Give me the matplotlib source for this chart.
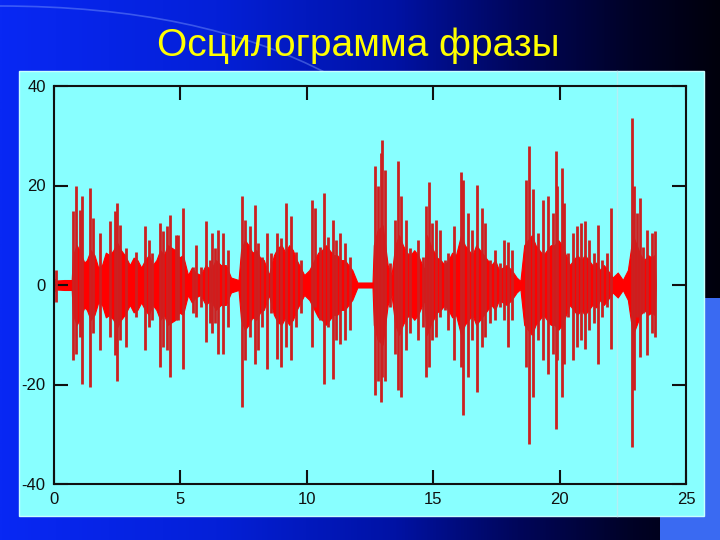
import numpy as np
import matplotlib
matplotlib.use("Agg")
import matplotlib.pyplot as plt
from matplotlib.patches import Rectangle, PathPatch
from matplotlib.path import Path
from matplotlib.colors import LinearSegmentedColormap

# ---------------- data ----------------
title = "Осцилограмма фразы"
x_ticks = [0, 5, 10, 15, 20, 25]
y_ticks = [40, 20, 0, -20, -40]

# dense "body" of the oscillogram (half-amplitude)
env_t = [0.0, 0.05, 0.1, 0.4, 0.7, 0.75, 0.9, 1.0, 1.2, 1.3, 1.45, 1.6, 1.75, 1.9, 2.05, 2.2,
         2.35, 2.5, 2.65, 2.8, 3.0, 3.15, 3.3, 3.45, 3.6, 3.75, 3.9, 4.05, 4.2, 4.35, 4.5,
         4.65, 4.8, 4.95, 5.1, 5.3, 5.45, 5.6, 5.8, 6.0, 6.2, 6.4, 6.6, 6.8, 7.0, 7.3, 7.4,
         7.55, 7.7, 7.85, 8.0, 8.15, 8.3, 8.5, 8.7, 8.85, 9.0, 9.15, 9.3, 9.45, 9.6, 9.9,
         10.1, 10.3, 10.45, 10.6, 10.75, 10.9, 11.05, 11.2, 11.35, 11.5, 11.65, 11.8, 12.0,
         12.6, 12.65, 12.8, 13.0, 13.2, 13.35, 13.5, 13.65, 13.8, 13.95, 14.1, 14.25, 14.4,
         14.65, 14.75, 14.9, 15.0, 15.15, 15.3, 15.45, 15.6, 15.75, 15.9, 16.1, 16.25, 16.4,
         16.55, 16.7, 16.85, 17.0, 17.15, 17.3, 17.45, 17.6, 17.75, 17.9, 18.1, 18.3, 18.45,
         18.6, 18.75, 18.9, 19.05, 19.2, 19.35, 19.5, 19.65, 19.8, 19.95, 20.1, 20.25, 20.4,
         20.55, 20.7, 20.85, 21.0, 21.15, 21.3, 21.45, 21.6, 21.75, 21.9, 22.1, 22.3, 22.5,
         22.7, 22.9, 23.05, 23.2, 23.35, 23.5, 23.65, 23.75, 23.8]
env_amp = [0.8, 1.2, 0.9, 1.0, 1.0, 6, 8, 7, 4.5, 5, 7, 6, 3.5, 4, 6.5, 6,
           7, 8.5, 7, 6, 4, 5.5, 5, 3.5, 5, 6, 4, 5, 7, 6, 8,
           7.5, 7, 5.5, 6, 2, 3.5, 2.5, 2, 4, 3, 5, 4, 4, 1.5, 1, 7,
           9, 8, 6.5, 7, 5.5, 5, 2, 6, 7.5, 8, 6.5, 8, 7, 5, 2,
           3, 5, 6.5, 7, 8, 7, 6, 6, 5, 5, 4, 3, 0.5,
           0.5, 8, 11, 12, 4, 2, 8, 10, 8, 6.5, 6, 7, 6,
           3, 10, 8, 7, 5.5, 5, 4, 5, 6.5, 6, 10, 8, 7,
           6, 8, 7, 6, 5, 4, 5, 3, 3.5, 4, 3, 1.5, 0.8,
           8, 9, 10, 8, 7, 6, 7, 8, 8, 9, 8, 6, 4,
           5, 6, 5, 6, 5, 4, 4.5, 3, 4, 3, 1.5, 2.5, 1,
           3, 10, 8, 6, 5, 6, 5.5, 6, 0.5]

# individual peaks: time, positive peak, negative peak
spike_t = [0.06, 0.77, 0.86, 1.01, 1.10, 1.41, 1.54, 1.83, 2.20, 2.40, 2.50, 2.63, 2.86, 3.23,
           3.61, 3.75, 3.89, 4.18, 4.31, 4.47, 4.60, 4.84,
           4.90, 5.10, 5.50, 5.60, 5.83, 6.02, 6.16, 6.26, 6.35, 6.49, 6.68, 6.88,
           7.45, 7.54, 7.74, 7.94, 8.07, 8.24, 8.44, 8.60, 8.82, 8.99, 9.19, 9.39, 9.59, 9.78,
           10.22, 10.31, 10.54, 10.67, 10.84, 11.04, 11.17, 11.33, 11.50, 11.70,
           12.69, 12.82, 12.93, 12.99, 13.11, 13.31, 13.48, 13.61, 13.74, 13.92, 14.07,
           14.40, 14.60, 14.73, 14.83, 14.96, 15.13, 15.26, 15.46, 15.59, 15.83, 16.09,
           16.18, 16.38, 16.54, 16.75, 16.94, 17.04, 17.24, 17.44, 17.64, 17.81, 17.97,
           18.12, 18.69, 18.78, 18.96, 19.15, 19.35, 19.55, 19.75,
           19.85, 19.91, 20.08, 20.17, 20.34, 20.54, 20.67, 20.83, 21.00, 21.17, 21.36,
           21.50, 21.66, 21.86, 22.03, 22.85, 22.94, 23.07, 23.18, 23.31, 23.47, 23.64, 23.77]
spike_hi = [3.0, 14.8, 19.8, 15.1, 17.8, 19.5, 13.4, 10.4, 12.8, 14.8, 16.5, 12.1, 7.4, 6.7,
            11.8, 9.1, 6.4, 12.4, 10.8, 11.8, 14.1, 10.1,
            10.1, 15.5, 3.7, 8.1, 3.7, 12.8, 5.0, 10.4, 7.4, 11.1, 10.4, 7.1,
            17.8, 13.1, 11.8, 16.1, 8.4, 5.7, 10.4, 6.4, 10.4, 9.4, 16.5, 13.8, 6.7, 5.0,
            17.1, 15.5, 7.7, 18.5, 9.7, 13.1, 9.1, 10.4, 8.4, 5.7,
            23.9, 19.8, 26.5, 29.2, 23.2, 4.4, 13.1, 24.9, 17.8, 13.1, 7.4,
            9.1, 5.7, 15.8, 20.8, 12.4, 13.1, 11.1, 5.0, 6.4, 11.8, 22.8,
            21.2, 14.4, 11.1, 20.2, 15.5, 12.4, 5.0, 7.1, 4.4, 9.1, 8.7,
            7.1, 21.2, 27.9, 19.2, 10.4, 17.1, 17.8, 14.4,
            26.9, 19.8, 23.5, 16.5, 6.4, 10.4, 11.8, 12.4, 12.8, 9.1, 6.4,
            12.1, 5.0, 6.4, 15.5, 33.6, 19.8, 14.4, 17.5, 7.7, 11.1, 10.4, 10.8]
spike_lo = [-3.5, -15.1, -13.8, -10.4, -19.8, -20.5, -9.7, -13.1, -10.4, -14.1, -19.2, -11.1, -12.4, -6.4,
            -13.1, -8.4, -7.1, -16.5, -12.4, -13.1, -18.5, -7.1,
            -7.1, -16.8, -5.7, -6.4, -4.4, -11.4, -7.7, -9.7, -7.7, -13.8, -13.8, -8.4,
            -24.5, -15.1, -10.4, -15.8, -13.1, -8.4, -16.8, -5.7, -14.8, -16.5, -12.4, -15.1, -8.4, -5.7,
            -12.4, -4.4, -7.1, -19.8, -8.4, -18.8, -11.1, -11.8, -11.1, -9.1,
            -22.2, -19.2, -23.5, -18.5, -19.2, -4.4, -13.8, -21.2, -22.5, -13.1, -9.7,
            -11.1, -8.4, -18.5, -16.5, -11.1, -10.4, -6.4, -5.0, -9.1, -15.1, -16.5,
            -26.2, -18.5, -11.1, -21.5, -12.4, -10.4, -7.7, -7.1, -4.4, -7.1, -12.4,
            -7.1, -16.5, -31.9, -22.5, -11.1, -15.1, -17.8, -13.8,
            -28.9, -15.1, -22.5, -15.8, -6.4, -15.1, -12.4, -11.1, -12.8, -9.1, -7.7,
            -15.8, -6.4, -4.4, -12.8, -32.6, -21.2, -6.4, -14.4, -5.7, -14.1, -9.7, -10.4]

# ---------------- figure / slide background ----------------
W, H = 720, 540
fig = plt.figure(figsize=(7.2, 5.4), dpi=100)

bg = fig.add_axes([0, 0, 1, 1], zorder=-10)
bg.set_axis_off()
cmap = LinearSegmentedColormap.from_list(
    "slide", [(0.0, "#0828f4"), (0.3, "#0420d8"), (0.55, "#0012a4"),
              (0.72, "#00065a"), (0.88, "#000226"), (1.0, "#00000c")])
grad = np.tile(np.linspace(0, 1, 512), (8, 1))
bg.imshow(grad, aspect="auto", cmap=cmap, extent=[0, W, 0, H], origin="lower")
bg.set_xlim(0, W)
bg.set_ylim(H, 0)
# lighter blue block lower right
bg.add_patch(Rectangle((660, 298), 60, 242, color="#3a6af2", lw=0, zorder=2))
# faint decorative arc
arc = Path([(0, 6), (200, 6), (330, 75)], [Path.MOVETO, Path.CURVE3, Path.CURVE3])
bg.add_patch(PathPatch(arc, facecolor="none", edgecolor="#8aa8ff", lw=1.2, alpha=0.4, zorder=2))
# cyan panel
bg.add_patch(Rectangle((19, 71), 685, 445, facecolor="#88ffff", edgecolor="#c8ffff", lw=1, zorder=3))
# pale vertical streak across the panel
bg.plot([617, 617], [71, 516], color="#b4eef4", lw=1, zorder=4)

fig.text(358 / W, 1 - 46 / H, title, color="#ffff00", fontsize=28,
         family=["Liberation Sans", "DejaVu Sans"], ha="center", va="center")

# ---------------- the oscillogram ----------------
ax = fig.add_axes([54 / W, 1 - 484 / H, (686 - 54) / W, (484 - 86) / H], zorder=5)
ax.patch.set_alpha(0)
ax.fill_between(env_t, [-a for a in env_amp], env_amp, color="#ff0000", lw=0.8, edgecolor="#ff0000")
ax.vlines(spike_t, spike_lo, spike_hi, color="#cc2020", lw=2.0)

ax.set_xlim(0, 25)
ax.set_ylim(-40, 40)
ax.set_xticks(x_ticks)
ax.set_yticks(y_ticks)
ax.set_xticklabels([str(v) for v in x_ticks])
ax.set_yticklabels([str(v) for v in y_ticks])
ax.tick_params(direction="in", length=10, width=1.5, color="#101010",
               top=True, right=True, labelsize=12, labelcolor="#101010", pad=6)
for lab in ax.get_xticklabels() + ax.get_yticklabels():
    lab.set_family(["Liberation Sans Narrow", "Liberation Sans", "DejaVu Sans"])
for s in ax.spines.values():
    s.set_linewidth(1.5)
    s.set_color("#101010")

fig.savefig("out.png", dpi=100)
